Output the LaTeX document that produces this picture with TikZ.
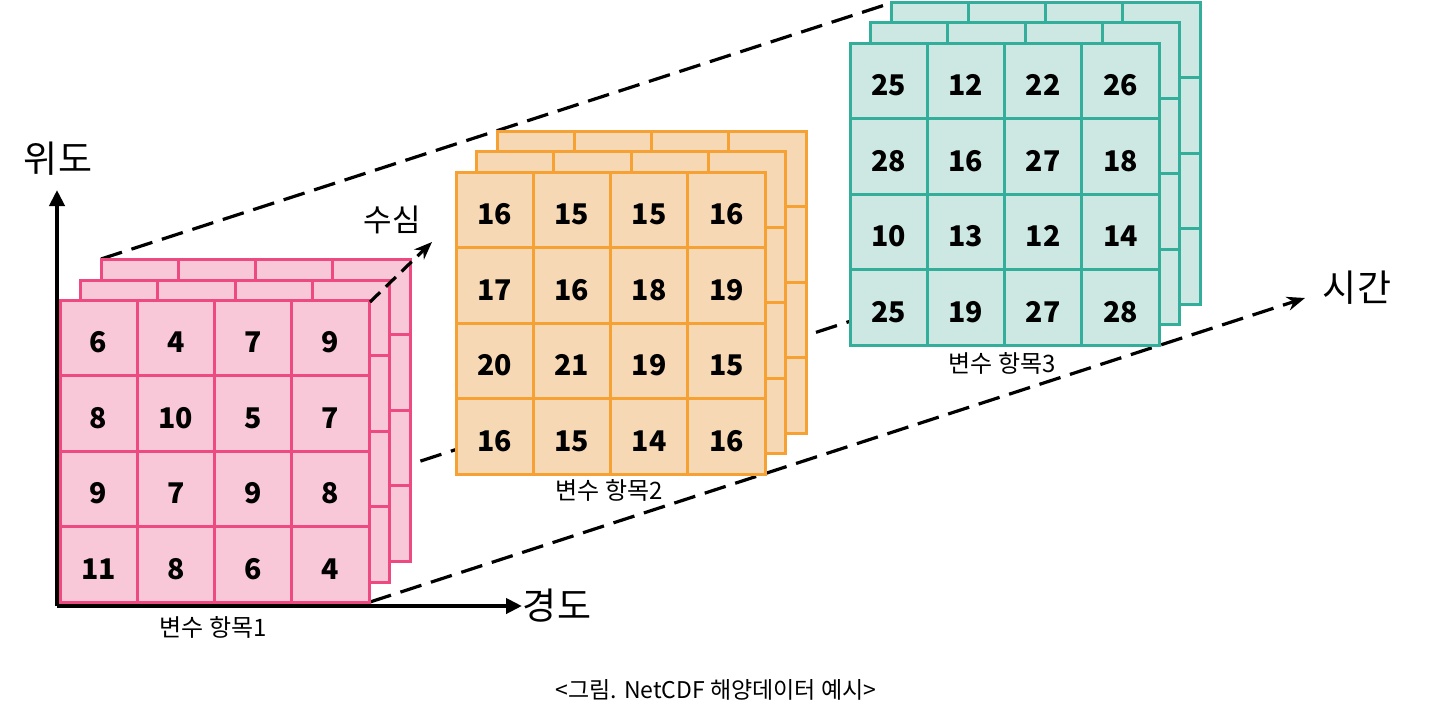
\documentclass[tikz,border=0pt]{standalone}
\usepackage{fontspec}
\setmainfont{Noto Sans CJK KR}
\usetikzlibrary{positioning,arrows.meta}

\definecolor{pinkline}{HTML}{EE4A82}
\definecolor{pinkfill}{HTML}{F8C8D8}
\definecolor{orangeline}{HTML}{F5A133}
\definecolor{orangefill}{HTML}{F7D8B4}
\definecolor{tealline}{HTML}{33AE9B}
\definecolor{tealfill}{HTML}{CDE7E2}

% one hidden layer of a stack: #1 x, #2 y (top left), #3 colour prefix
\newcommand{\backlayer}[3]{%
  \draw[line width=3pt, draw=#3line, fill=#3fill] (#1,#2) rectangle ++(309,302);
  \foreach \i in {1,2,3} {
    \draw[line width=3pt, draw=#3line] (#1+77.25*\i,#2) -- ++(0,302);
    \draw[line width=3pt, draw=#3line] (#1,#2+75.5*\i) -- ++(309,0);
  }%
}
% front layer of a stack with values: #1 name, #2 x, #3 y, #4 colour prefix, #5 values
\newcommand{\frontlayer}[5]{%
  \foreach \v [count=\n from 0] in {#5} {
    \pgfmathtruncatemacro{\r}{div(\n,4)}
    \pgfmathtruncatemacro{\c}{mod(\n,4)}
    \node[cell, draw=#4line, fill=#4fill] (#1-\r-\c) at (#2+77.25*\c+38.625, #3+75.5*\r+37.75) {\v};
  }%
}

\begin{document}
\begin{tikzpicture}[x=1pt, y=-1pt,
        cell/.style={rectangle, minimum width=77.25pt, minimum height=75.5pt, inner sep=0pt, text height=30pt, text depth=0pt, line width=3pt, font=\fontsize{28.5}{28.5}\selectfont\bfseries},
        axislabel/.style={font=\fontsize{37}{37}\selectfont},
        setlabel/.style={font=\fontsize{24}{24}\selectfont},
        dashline/.style={line width=3.2pt, dash pattern=on 22pt off 10pt},
        axisline/.style={line width=4pt, -{Triangle[length=16pt, width=15pt]}},
    ]
    \useasboundingbox (0,0) rectangle (1432,718);

    % corners of the stacks
    \coordinate (pinkback)   at (101,259);
    \coordinate (tealback)   at (891,3);
    \coordinate (pinkcorner) at (370,602);
    \coordinate (pinktop)    at (370,302);
    \coordinate (midstart)   at (390,471);
    \coordinate (midend)     at (900,305);
    \coordinate (origin)     at (57,606);
    \coordinate (latend)     at (57,190);
    \coordinate (lonend)     at (522,606);
    \coordinate (timeend)    at (1305,298);
    \coordinate (depthend)   at (432,242);

    % dashed guide lines behind the stacks
    \draw[dashline] (pinkback) -- (tealback);
    \draw[dashline] (midstart) -- (midend);
    \draw[dashline, -{Stealth[length=18pt, width=14pt]}] (pinkcorner) -- (timeend);

    % stacks
    \backlayer{101}{259}{pink}
    \backlayer{80.5}{280}{pink}
    \frontlayer{p}{60}{300}{pink}{6,4,7,9,8,10,5,7,9,7,9,8,11,8,6,4}

    \backlayer{497}{131}{orange}
    \backlayer{476.5}{151.5}{orange}
    \frontlayer{o}{456}{172}{orange}{16,15,15,16,17,16,18,19,20,21,19,15,16,15,14,16}

    \backlayer{891}{2}{teal}
    \backlayer{870.5}{22.5}{teal}
    \frontlayer{t}{850}{43}{teal}{25,12,22,26,28,16,27,18,10,13,12,14,25,19,27,28}

    % axes
    \draw[axisline] (origin) -- (latend);
    \draw[axisline] (origin) -- (lonend);
    \draw[dashline, dash pattern=on 14pt off 8pt, -{Stealth[length=18pt, width=14pt]}] (pinktop) -- (depthend);

    % labels
    \node[axislabel] (lat)   at (58,159)   {위도};
    \node[axislabel] (lon)   at (557,606)  {경도};
    \node[axislabel] (time)  at (1357,288) {시간};
    \node[font=\fontsize{31}{31}\selectfont] (depth) at (392,220) {수심};
    \node[setlabel]  (name1) at (213,627)  {변수 항목1};
    \node[setlabel]  (name2) at (609,490)  {변수 항목2};
    \node[setlabel]  (name3) at (1002,363) {변수 항목3};
    \node[font=\fontsize{23}{23}\selectfont] (caption) at (716,690) {<그림. NetCDF 해양데이터 예시>};
\end{tikzpicture}
\end{document}
